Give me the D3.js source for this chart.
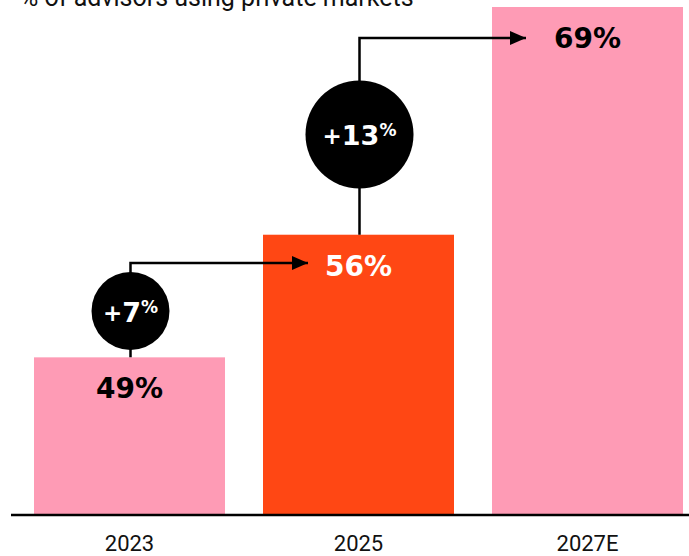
<!DOCTYPE html>
<html>
<head>
<meta charset="utf-8">
<script src="https://cdn.jsdelivr.net/npm/d3@7"></script>
<style>
  html, body { margin: 0; padding: 0; background: #fff; }
  svg { display: block; }
</style>
</head>
<body>
<svg id="chart" width="689" height="556"></svg>
<script>
// Share of advisors using private markets
const categories = ["2023", "2025", "2027E"];
const values = [49, 56, 69];
const valueLabels = ["49%", "56%", "69%"];
const barColors = ["#fe9bb5", "#ff4714", "#fe9bb5"];
const labelColors = ["#000", "#fff", "#000"];
const changes = [{ from: 0, to: 1, label: "7" }, { from: 1, to: 2, label: "13" }];
const title = "% of advisors using private markets";

const W = 689;
const baseY = 515;
const svg = d3.select("#chart");

// bars start at 34, step 229, width 191
const x = d3.scaleBand()
  .domain(categories)
  .range([34, 34 + 229 * 2 + 191])
  .paddingInner(38 / 229)
  .paddingOuter(0);

const y = d3.scaleLinear().domain([40, 69]).range([baseY, 7]);

const boldFont = "'DejaVu Sans', Verdana, sans-serif";
const plainFont = "Roboto, 'Noto Sans', sans-serif";

// title (runs off the top edge)
svg.append("text")
  .attr("x", 20).attr("y", 6)
  .attr("font-family", plainFont)
  .attr("font-size", 25)
  .attr("fill", "#111")
  .text(title);

// bars
svg.selectAll("rect.bar")
  .data(values)
  .join("rect")
  .attr("class", "bar")
  .attr("x", (d, i) => x(categories[i]))
  .attr("y", d => y(d))
  .attr("width", x.bandwidth())
  .attr("height", d => baseY - y(d))
  .attr("fill", (d, i) => barColors[i]);

// value labels
svg.selectAll("text.val")
  .data(values)
  .join("text")
  .attr("class", "val")
  .attr("x", (d, i) => x(categories[i]) + x.bandwidth() / 2)
  .attr("y", d => y(d) + 41)
  .attr("text-anchor", "middle")
  .attr("font-family", boldFont)
  .attr("font-weight", "bold")
  .attr("font-size", 28)
  .attr("fill", (d, i) => labelColors[i])
  .text((d, i) => valueLabels[i]);

// arrow marker
svg.append("defs").append("marker")
  .attr("id", "arrow")
  .attr("viewBox", "0 0 16 14")
  .attr("refX", 16).attr("refY", 7)
  .attr("markerWidth", 16).attr("markerHeight", 14)
  .attr("markerUnits", "userSpaceOnUse")
  .attr("orient", "auto")
  .append("path")
  .attr("d", "M0,0L16,7L0,14Z")
  .attr("fill", "#000");

const circleR = [39, 54];
const elbowY = [263, 38];
const tipX = [308, 526];
const circleCY = [311, 134.5];

changes.forEach((c, k) => {
  const cx = x(categories[c.from]) + x.bandwidth() / 2 + 1;
  const y0 = y(values[c.from]);
  svg.append("path")
    .attr("d", `M${cx},${y0}V${elbowY[k]}H${tipX[k]}`)
    .attr("fill", "none")
    .attr("stroke", "#000")
    .attr("stroke-width", 2.5)
    .attr("marker-end", "url(#arrow)");
  svg.append("circle")
    .attr("cx", cx).attr("cy", circleCY[k])
    .attr("r", circleR[k])
    .attr("fill", "#000");
  const t = svg.append("text")
    .attr("x", cx).attr("y", circleCY[k] + 10.5)
    .attr("text-anchor", "middle")
    .attr("font-family", boldFont)
    .attr("font-weight", "bold")
    .attr("fill", "#fff");
  t.append("tspan").attr("font-size", 23).attr("dy", -1).text("+");
  t.append("tspan").attr("font-size", 27).attr("dy", 1).text(c.label);
  t.append("tspan").attr("font-size", 17).attr("dy", -9).text("%");
});

// baseline
svg.append("line")
  .attr("x1", 11).attr("x2", W)
  .attr("y1", baseY).attr("y2", baseY)
  .attr("stroke", "#000").attr("stroke-width", 2.5);

// category axis labels
const axis = d3.axisBottom(x).tickSize(0).tickPadding(19);
const g = svg.append("g").attr("transform", `translate(0,${baseY + 1})`).call(axis);
g.select(".domain").remove();
g.selectAll("text")
  .attr("font-family", plainFont)
  .attr("font-size", 22)
  .attr("fill", "#111");
</script>
</body>
</html>
